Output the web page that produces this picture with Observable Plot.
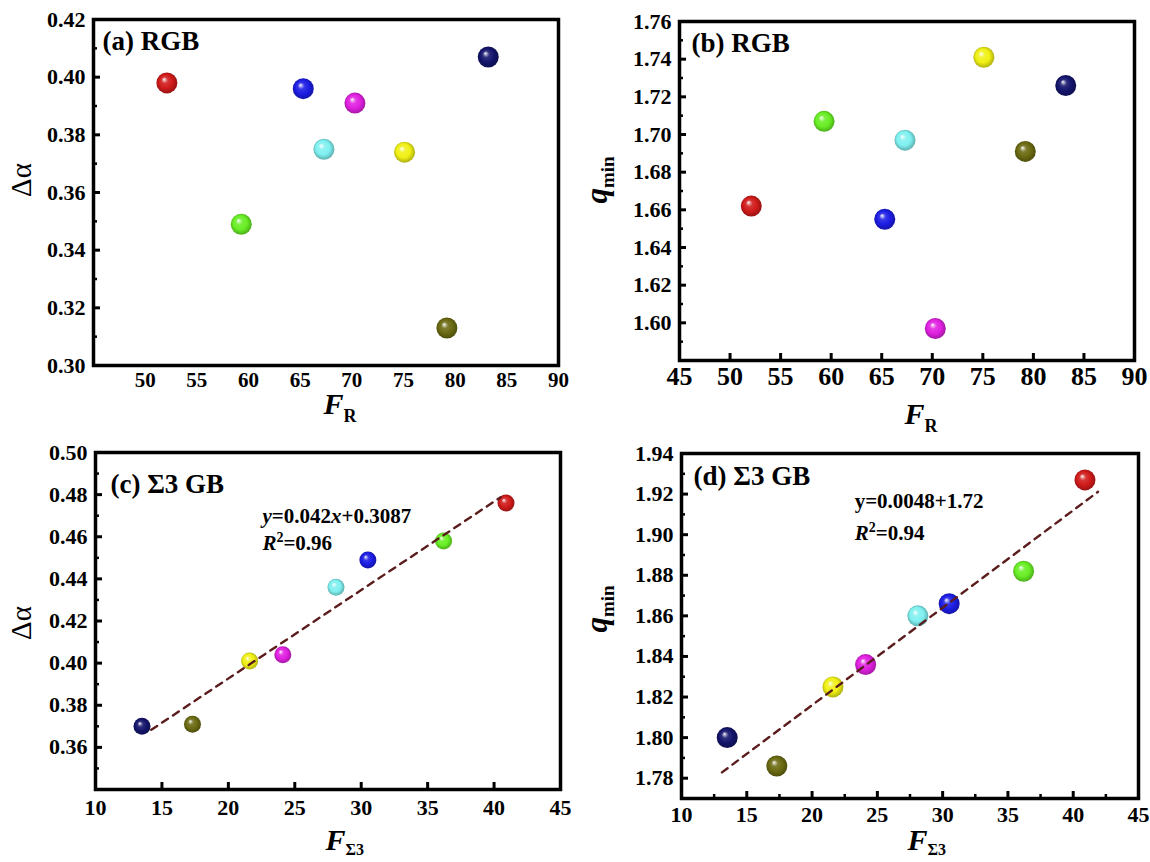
<!DOCTYPE html>
<html>
<head>
<meta charset="utf-8">
<script src="https://cdn.jsdelivr.net/npm/d3@7"></script>
<script src="https://cdn.jsdelivr.net/npm/@observablehq/plot@0.6"></script>
<style>
  html, body { margin: 0; padding: 0; background: #fff; }
  #figure { position: relative; width: 1150px; height: 862px; overflow: hidden; font-family: "Liberation Serif", "Times New Roman", serif; }
  #figure > svg { position: absolute; overflow: visible; }
</style>
</head>
<body>
<svg width="0" height="0" style="position:absolute"><defs id="ball-defs"></defs></svg>
<div id="figure"></div>
<script>
// Eight samples, in the same order in every array below.
const sampleNames = ["red", "green", "blue", "cyan", "magenta", "yellow", "olive", "navy"];
const sampleColors = ["#d01a1a", "#68ee24", "#1c1ce4", "#80f0f0", "#e020e0", "#f0f014", "#6a6a12", "#14146c"];

// RGB fraction F_R (%), with Δα and q_min of each sample
const fractionRGB = [52.1, 59.3, 65.3, 67.3, 70.3, 75.1, 79.2, 83.2];
const deltaAlphaRGB = [0.398, 0.349, 0.396, 0.375, 0.391, 0.374, 0.313, 0.407];
const qMinRGB = [1.662, 1.707, 1.655, 1.697, 1.597, 1.741, 1.691, 1.726];

// Σ3 grain-boundary fraction F_Σ3 (%), with Δα and q_min of each sample
const fractionS3 = [40.9, 36.2, 30.5, 28.1, 24.1, 21.6, 17.3, 13.5];
const deltaAlphaS3 = [0.476, 0.458, 0.449, 0.436, 0.404, 0.401, 0.371, 0.370];
const qMinS3 = [1.927, 1.882, 1.866, 1.860, 1.836, 1.825, 1.786, 1.800];

// linear fits against F_Σ3
const fitDeltaAlpha = {slope: 0.0042, intercept: 0.3087, xFrom: 14.2, xTo: 40.5};
const fitQMin = {slope: 0.0048, intercept: 1.72, xFrom: 13.1, xTo: 41.9};

// tick values
const xLabelsA = [50, 55, 60, 65, 70, 75, 80, 85, 90];
const xLabelsB = [45, 50, 55, 60, 65, 70, 75, 80, 85, 90];
const xTicksB = [50, 55, 60, 65, 70, 75, 80, 85];
const xLabelsS3 = [10, 15, 20, 25, 30, 35, 40, 45];
const xTicksS3 = [15, 20, 25, 30, 35, 40];
const xMinorD = [12.5, 17.5, 22.5, 27.5, 32.5, 37.5, 42.5];
const yLabelsA = [0.30, 0.32, 0.34, 0.36, 0.38, 0.40, 0.42];
const yMinorA = [0.31, 0.33, 0.35, 0.37, 0.39, 0.41];
const yLabelsB = [1.60, 1.62, 1.64, 1.66, 1.68, 1.70, 1.72, 1.74, 1.76];
const yMinorB = [1.59, 1.61, 1.63, 1.65, 1.67, 1.69, 1.71, 1.73, 1.75];
const yLabelsC = [0.36, 0.38, 0.40, 0.42, 0.44, 0.46, 0.48, 0.50];
const yMinorC = [0.35, 0.37, 0.39, 0.41, 0.43, 0.45, 0.47, 0.49];
const yLabelsD = [1.78, 1.80, 1.82, 1.84, 1.86, 1.88, 1.90, 1.92, 1.94];
const yMinorD = [1.77, 1.79, 1.81, 1.83, 1.85, 1.87, 1.89, 1.91, 1.93];

// shaded-sphere fills, one radial gradient per sample colour
const defs = d3.select("#ball-defs");
sampleColors.forEach((c, i) => {
  const g = defs.append("radialGradient")
    .attr("id", "ball-" + sampleNames[i])
    .attr("cx", "50%").attr("cy", "50%").attr("r", "55%")
    .attr("fx", "36%").attr("fy", "32%");
  const col = d3.color(c);
  g.append("stop").attr("offset", "0%").attr("stop-color", "#ffffff");
  g.append("stop").attr("offset", "10%").attr("stop-color", d3.interpolateRgb("#ffffff", c)(0.35));
  g.append("stop").attr("offset", "28%").attr("stop-color", d3.interpolateRgb("#ffffff", c)(0.88));
  g.append("stop").attr("offset", "60%").attr("stop-color", c);
  g.append("stop").attr("offset", "100%").attr("stop-color", col.darker(1.1).formatHex());
});

const figure = document.getElementById("figure");

// rich text helper: parts = [{t, italic, size, dy}]
function richText(svg, x, y, parts, {size = 20, anchor = "start", rotate = false, weight = "bold"} = {}) {
  const t = svg.append("text")
    .attr("x", x).attr("y", y)
    .attr("font-size", size)
    .attr("font-weight", weight)
    .attr("text-anchor", anchor)
    .attr("fill", "black");
  if (rotate) t.attr("transform", `rotate(-90 ${x} ${y})`);
  parts.forEach(p => {
    const s = t.append("tspan").text(p.t);
    if (p.italic) s.attr("font-style", "italic");
    if (p.size) s.attr("font-size", p.size);
    if (p.dy) s.attr("dy", p.dy);
  });
  return t;
}

function panel(cfg) {
  const W = 575, H = 431;
  const fw = W - cfg.ml - cfg.mr;
  const fh = H - cfg.mt - cfg.mb;
  const pts = cfg.xs.map((x, i) => ({x, y: cfg.ys[i], ball: `url(#ball-${sampleNames[i]})`}));
  const marks = [
    Plot.axisY({ticks: cfg.yLabels, tickSize: 0, tickPadding: 8, tickFormat: d3.format(".2f"), fontSize: 22, label: null}),
    Plot.axisX({ticks: cfg.xLabels, tickSize: 0, tickPadding: cfg.xPad, tickFormat: d3.format("d"), fontSize: cfg.xFont, label: null}),
    Plot.tickY(cfg.yLabels, {y: d => d, insetRight: fw - 7, stroke: "black", strokeWidth: 3}),
    Plot.tickY(cfg.yMinor, {y: d => d, insetRight: fw - 4, stroke: "black", strokeWidth: 2.5})
  ];
  if (cfg.xTicks) marks.push(Plot.tickX(cfg.xTicks, {x: d => d, insetTop: fh - 7, stroke: "black", strokeWidth: 3}));
  if (cfg.xMinor) marks.push(Plot.tickX(cfg.xMinor, {x: d => d, insetTop: fh - 4, stroke: "black", strokeWidth: 2.5}));
  marks.push(Plot.dot(pts, {x: "x", y: "y", r: cfg.r, fill: "ball", stroke: null}));
  if (cfg.fit) {
    const f = cfg.fit;
    const seg = [f.xFrom, f.xTo].map(x => ({x, y: f.slope * x + f.intercept}));
    marks.push(Plot.line(seg, {x: "x", y: "y", stroke: "#5a1c1c", strokeWidth: 2.4, strokeDasharray: "7,6"}));
  }
  marks.push(Plot.frame({stroke: "black", strokeWidth: 3.5}));
  marks.push(Plot.text([cfg.tag], {text: d => d, frameAnchor: "top-left", textAnchor: "start", lineAnchor: "middle", dx: cfg.tagDx, dy: cfg.tagDy, fontSize: 27, fontWeight: "bold"}));

  const chart = Plot.plot({
    width: W, height: H,
    marginLeft: cfg.ml, marginRight: cfg.mr, marginTop: cfg.mt, marginBottom: cfg.mb,
    x: {domain: cfg.xDomain, label: null},
    y: {domain: cfg.yDomain, label: null},
    color: {type: "identity"},
    style: {fontFamily: "'Liberation Serif', 'Times New Roman', serif", fontWeight: "bold", color: "black", background: "transparent", overflow: "visible"},
    marks
  });
  chart.style.left = cfg.left + "px";
  chart.style.top = cfg.top + "px";
  figure.appendChild(chart);

  const svg = d3.select(chart);
  const sx = chart.scale("x"), sy = chart.scale("y");
  const cx = cfg.ml + fw / 2;

  // y-axis title
  if (cfg.yTitle === "dalpha") {
    richText(svg, 31, cfg.yTitleY, [{t: "Δα"}], {size: 29, anchor: "middle", rotate: true, weight: "normal"});
  } else {
    richText(svg, 32, cfg.yTitleY, [{t: "q", italic: true}, {t: "min", size: 19, dy: 7}], {size: 31, anchor: "middle", rotate: true});
  }
  // x-axis title
  richText(svg, cx - 2, cfg.xTitleY, [{t: "F", italic: true}, {t: cfg.xSub, size: cfg.subSize, dy: cfg.subDy}], {size: 30, anchor: "start"});

  // fit equation
  if (cfg.eq) {
    const e = cfg.eq;
    richText(svg, sx.apply(e.x), sy.apply(e.y1), e.line1, {size: 21});
    richText(svg, sx.apply(e.x), sy.apply(e.y2), e.line2, {size: 21});
  }
}

// (a) Δα vs F_R
panel({
  left: 0, top: 0, ml: 93, mr: 17, mt: 19, mb: 66,
  xDomain: [45, 90], yDomain: [0.30, 0.42],
  xs: fractionRGB, ys: deltaAlphaRGB, r: 10.5,
  xLabels: xLabelsA, xPad: 7, xFont: 21,
  yLabels: yLabelsA, yMinor: yMinorA,
  tag: "(a) RGB", tagDx: 9, tagDy: 22,
  yTitle: "dalpha", yTitleY: 180,
  xSub: "R", subSize: 18, subDy: 8, xTitleY: 414
});

// (b) q_min vs F_R
panel({
  left: 575, top: 0, ml: 104, mr: 16, mt: 21, mb: 71,
  xDomain: [45, 90], yDomain: [1.58, 1.76],
  xs: fractionRGB, ys: qMinRGB, r: 10.5,
  xLabels: xLabelsB, xTicks: xTicksB, xPad: 6, xFont: 26,
  yLabels: yLabelsB, yMinor: yMinorB,
  tag: "(b) RGB", tagDx: 12, tagDy: 22,
  yTitle: "qmin", yTitleY: 180,
  xSub: "R", subSize: 18, subDy: 8, xTitleY: 424
});

// (c) Δα vs F_Σ3 with linear fit
panel({
  left: 0, top: 431, ml: 95, mr: 15, mt: 21, mb: 73,
  xDomain: [10, 45], yDomain: [0.34, 0.50],
  xs: fractionS3, ys: deltaAlphaS3, r: 8.5,
  xLabels: xLabelsS3, xTicks: xTicksS3, xPad: 10, xFont: 22,
  yLabels: yLabelsC, yMinor: yMinorC,
  tag: "(c) Σ3 GB", tagDx: 15, tagDy: 32,
  yTitle: "dalpha", yTitleY: 192,
  xSub: "Σ3", subSize: 16, subDy: 5, xTitleY: 419,
  fit: fitDeltaAlpha,
  eq: {
    x: 22.6, y1: 0.4663, y2: 0.4535,
    line1: [{t: "y", italic: true}, {t: "=0.042"}, {t: "x", italic: true}, {t: "+0.3087"}],
    line2: [{t: "R", italic: true}, {t: "2", size: 14, dy: -8}, {t: "=0.96", dy: 8}]
  }
});

// (d) q_min vs F_Σ3 with linear fit
panel({
  left: 575, top: 431, ml: 106, mr: 12, mt: 22, mb: 64,
  xDomain: [10, 45], yDomain: [1.77, 1.94],
  xs: fractionS3, ys: qMinS3, r: 10.5,
  xLabels: xLabelsS3, xTicks: xTicksS3, xMinor: xMinorD, xPad: 8, xFont: 22,
  yLabels: yLabelsD, yMinor: yMinorD,
  tag: "(d) Σ3 GB", tagDx: 12, tagDy: 23,
  yTitle: "qmin", yTitleY: 178,
  xSub: "Σ3", subSize: 16, subDy: 5, xTitleY: 419,
  fit: fitQMin,
  eq: {
    x: 23.3, y1: 1.9129, y2: 1.897,
    line1: [{t: "y=0.0048+1.72"}],
    line2: [{t: "R", italic: true}, {t: "2", size: 14, dy: -8}, {t: "=0.94", dy: 8}]
  }
});
</script>
</body>
</html>
